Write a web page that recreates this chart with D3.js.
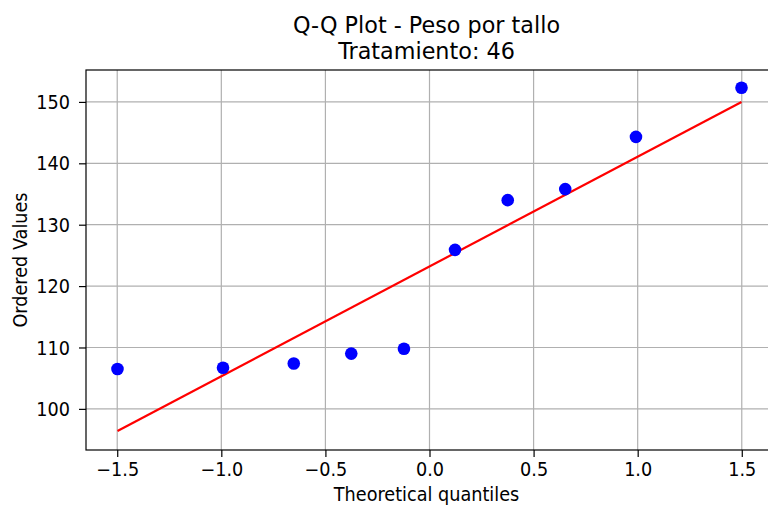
<!DOCTYPE html>
<html><head><meta charset="utf-8">
<script src="https://cdn.jsdelivr.net/npm/d3@7"></script>
<style>body{margin:0;background:#fff}svg{display:block}text{font-family:"DejaVu Sans",sans-serif;fill:#000}</style>
</head><body><svg id="c" width="768" height="506"></svg>
<script>
const theoreticalQuantiles = [-1.49877, -0.99183, -0.65200, -0.37577, -0.12267, 0.12267, 0.37577, 0.65200, 0.99183, 1.49877];
const orderedValues = [106.5, 106.7, 107.4, 109.0, 109.8, 125.9, 134.0, 135.8, 144.3, 152.3];
const fitX = [-1.49877, 1.49877];
const fitY = [96.4, 150.0];
const xTicks = [-1.5, -1.0, -0.5, 0.0, 0.5, 1.0, 1.5];
const yTicks = [100, 110, 120, 130, 140, 150];
const titleLines = ["Q-Q Plot - Peso por tallo", "Tratamiento: 46"];

const svg = d3.select("#c");
const L = 86, R = 773, T = 70, B = 450;
const SX = 0.93, STX = 0.97;
const x = d3.scaleLinear().domain([-1.65, 1.65]).range([L, R]);
const y = d3.scaleLinear().domain([93.3, 155.2]).range([B, T]);
const fmtX = d => d.toFixed(1).replace("-", "\u2212");

// grid
svg.append("g").selectAll("line").data(xTicks).join("line")
  .attr("x1", d => x(d)).attr("x2", d => x(d)).attr("y1", T).attr("y2", B)
  .attr("stroke", "#b0b0b0").attr("stroke-width", 1.2);
svg.append("g").selectAll("line").data(yTicks).join("line")
  .attr("y1", d => y(d)).attr("y2", d => y(d)).attr("x1", L).attr("x2", R)
  .attr("stroke", "#b0b0b0").attr("stroke-width", 1.2);

// axes
const xAxis = d3.axisBottom(x).tickValues(xTicks).tickFormat(fmtX).tickSize(7).tickPadding(7);
const yAxis = d3.axisLeft(y).tickValues(yTicks).tickFormat(d3.format("d")).tickSize(7).tickPadding(9);
const gx = svg.append("g").attr("transform", `translate(0,${B})`).call(xAxis);
const gy = svg.append("g").attr("transform", `translate(${L},0)`).call(yAxis);
[gx, gy].forEach(g => {
  g.select(".domain").remove();
  g.selectAll("line").attr("stroke", "#000").attr("stroke-width", 1.2);
  g.selectAll("text").style("font-family", '"DejaVu Sans",sans-serif').style("font-size", "19px").attr("fill", "#000");
});
gx.selectAll("text").attr("dy", null).attr("y", 26).attr("transform", `scale(${SX},1)`);
gy.selectAll("text").attr("dy", "0.35em").attr("x", -16 / SX).attr("transform", `scale(${SX},1)`);

// fit line
svg.append("path").datum(fitX.map((d, i) => [d, fitY[i]]))
  .attr("d", d3.line().x(d => x(d[0])).y(d => y(d[1])))
  .attr("stroke", "#ff0000").attr("stroke-width", 2.2).attr("fill", "none");

// points
svg.append("g").selectAll("circle").data(theoreticalQuantiles).join("circle")
  .attr("cx", d => x(d)).attr("cy", (d, i) => y(orderedValues[i])).attr("r", 6.3)
  .attr("fill", "#0000ff");

// spines
svg.append("rect").attr("x", L).attr("y", T).attr("width", R - L).attr("height", B - T)
  .attr("fill", "none").attr("stroke", "#000").attr("stroke-width", 1.2);

// titles
const cx = (L + R) / 2 - 3;
svg.append("text").attr("transform", `translate(${cx},33) scale(${STX},1)`).attr("text-anchor", "middle")
  .style("font-size", "23px").text(titleLines[0]);
svg.append("text").attr("transform", `translate(${cx},59) scale(${STX},1)`).attr("text-anchor", "middle")
  .style("font-size", "23px").text(titleLines[1]);

svg.append("text").attr("transform", `translate(${cx},501) scale(${SX},1)`).attr("text-anchor", "middle")
  .style("font-size", "19px").text("Theoretical quantiles");
svg.append("text").attr("transform", `translate(27,${(T + B) / 2}) rotate(-90) scale(${SX},1)`).attr("text-anchor", "middle")
  .style("font-size", "19px").text("Ordered Values");
</script></body></html>
